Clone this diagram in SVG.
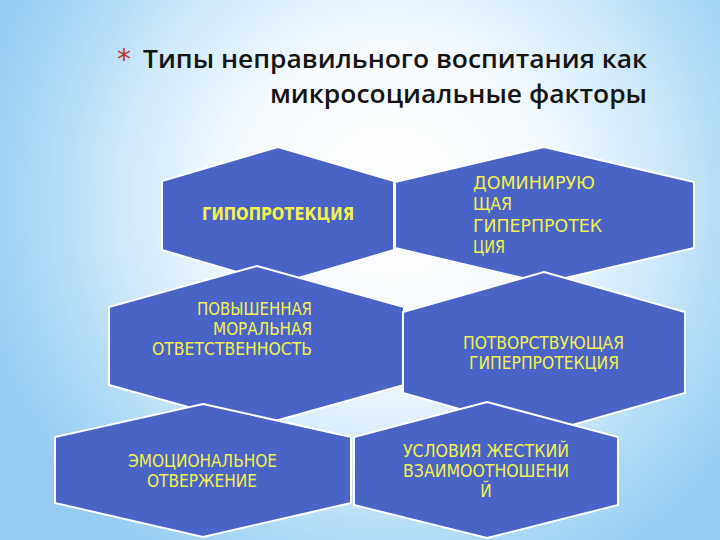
<svg xmlns="http://www.w3.org/2000/svg" width="720" height="540" viewBox="0 0 720 540">
  <defs>
    <radialGradient id="bg" cx="390" cy="200" r="430" gradientUnits="userSpaceOnUse">
      <stop offset="0" stop-color="#ffffff"/>
      <stop offset="0.35" stop-color="#f7fbfe"/>
      <stop offset="0.62" stop-color="#d0eafb"/>
      <stop offset="0.82" stop-color="#acd9f6"/>
      <stop offset="1" stop-color="#96ccf2"/>
    </radialGradient>
    <style>
      .hex { fill: #4a63c6; stroke: #ffffff; stroke-width: 2; stroke-linejoin: miter; }
      .lbl { fill: #f2f24e; font-family: "DejaVu Sans Condensed", "DejaVu Sans", sans-serif; font-size: 17px; }
      .b { font-weight: bold; }
      .title { fill: #141414; font-family: "Open Sans", "DejaVu Sans", sans-serif; font-weight: 600; font-size: 26px; }
    </style>
  </defs>

  <rect x="0" y="0" width="720" height="540" fill="url(#bg)"/>

  <g id="title">
    <text x="117" y="69" fill="#b8352a" font-family="DejaVu Sans, sans-serif" font-size="28">*</text>
    <text class="title" x="143" y="68" textLength="504" lengthAdjust="spacingAndGlyphs">Типы неправильного воспитания как</text>
    <text class="title" x="270" y="103" textLength="377" lengthAdjust="spacingAndGlyphs">микросоциальные факторы</text>
  </g>

  <g id="connectors"/>

  <g id="node-hypoprotection">
    <polygon class="hex" points="278,147 394,181 394,250 278,284 162,250 162,181"/>
    <text class="lbl b" x="202" y="220" textLength="152" lengthAdjust="spacingAndGlyphs">ГИПОПРОТЕКЦИЯ</text>
  </g>

  <g id="node-dominant">
    <polygon class="hex" points="544,147 694,182 694,248 544,283 395,248 395,182"/>
    <text class="lbl" x="473" y="189" textLength="122" lengthAdjust="spacingAndGlyphs">ДОМИНИРУЮ</text>
    <text class="lbl" x="473" y="210" textLength="39" lengthAdjust="spacingAndGlyphs">ЩАЯ</text>
    <text class="lbl" x="473" y="232" textLength="129" lengthAdjust="spacingAndGlyphs">ГИПЕРПРОТЕК</text>
    <text class="lbl" x="473" y="253" textLength="32" lengthAdjust="spacingAndGlyphs">ЦИЯ</text>
  </g>

  <g id="node-moral">
    <polygon class="hex" points="257,266 404,307 404,385 257,426 109,385 109,307"/>
    <text class="lbl" x="197" y="315" textLength="115" lengthAdjust="spacingAndGlyphs">ПОВЫШЕННАЯ</text>
    <text class="lbl" x="213" y="335" textLength="99" lengthAdjust="spacingAndGlyphs">МОРАЛЬНАЯ</text>
    <text class="lbl" x="152" y="355" textLength="160" lengthAdjust="spacingAndGlyphs">ОТВЕТСТВЕННОСТЬ</text>
  </g>

  <g id="node-indulgent">
    <polygon class="hex" points="544,272 685,312 685,393 544,433 403,393 403,312"/>
    <text class="lbl" x="463" y="349" textLength="161" lengthAdjust="spacingAndGlyphs">ПОТВОРСТВУЮЩАЯ</text>
    <text class="lbl" x="469" y="369" textLength="150" lengthAdjust="spacingAndGlyphs">ГИПЕРПРОТЕКЦИЯ</text>
  </g>

  <g id="node-emotional">
    <polygon class="hex" points="203,404 351,437 351,503 203,537 55,503 55,437"/>
    <text class="lbl" x="128" y="467" textLength="149" lengthAdjust="spacingAndGlyphs">ЭМОЦИОНАЛЬНОЕ</text>
    <text class="lbl" x="147" y="487" textLength="110" lengthAdjust="spacingAndGlyphs">ОТВЕРЖЕНИЕ</text>
  </g>

  <g id="node-harsh">
    <polygon class="hex" points="487,402 618,437 618,505 487,538 354,505 354,437"/>
    <text class="lbl" x="403" y="457" textLength="166" lengthAdjust="spacingAndGlyphs">УСЛОВИЯ ЖЕСТКИЙ</text>
    <text class="lbl" x="403" y="477" textLength="166" lengthAdjust="spacingAndGlyphs">ВЗАИМООТНОШЕНИ</text>
    <text class="lbl" x="486" y="497" text-anchor="middle">Й</text>
  </g>
</svg>
